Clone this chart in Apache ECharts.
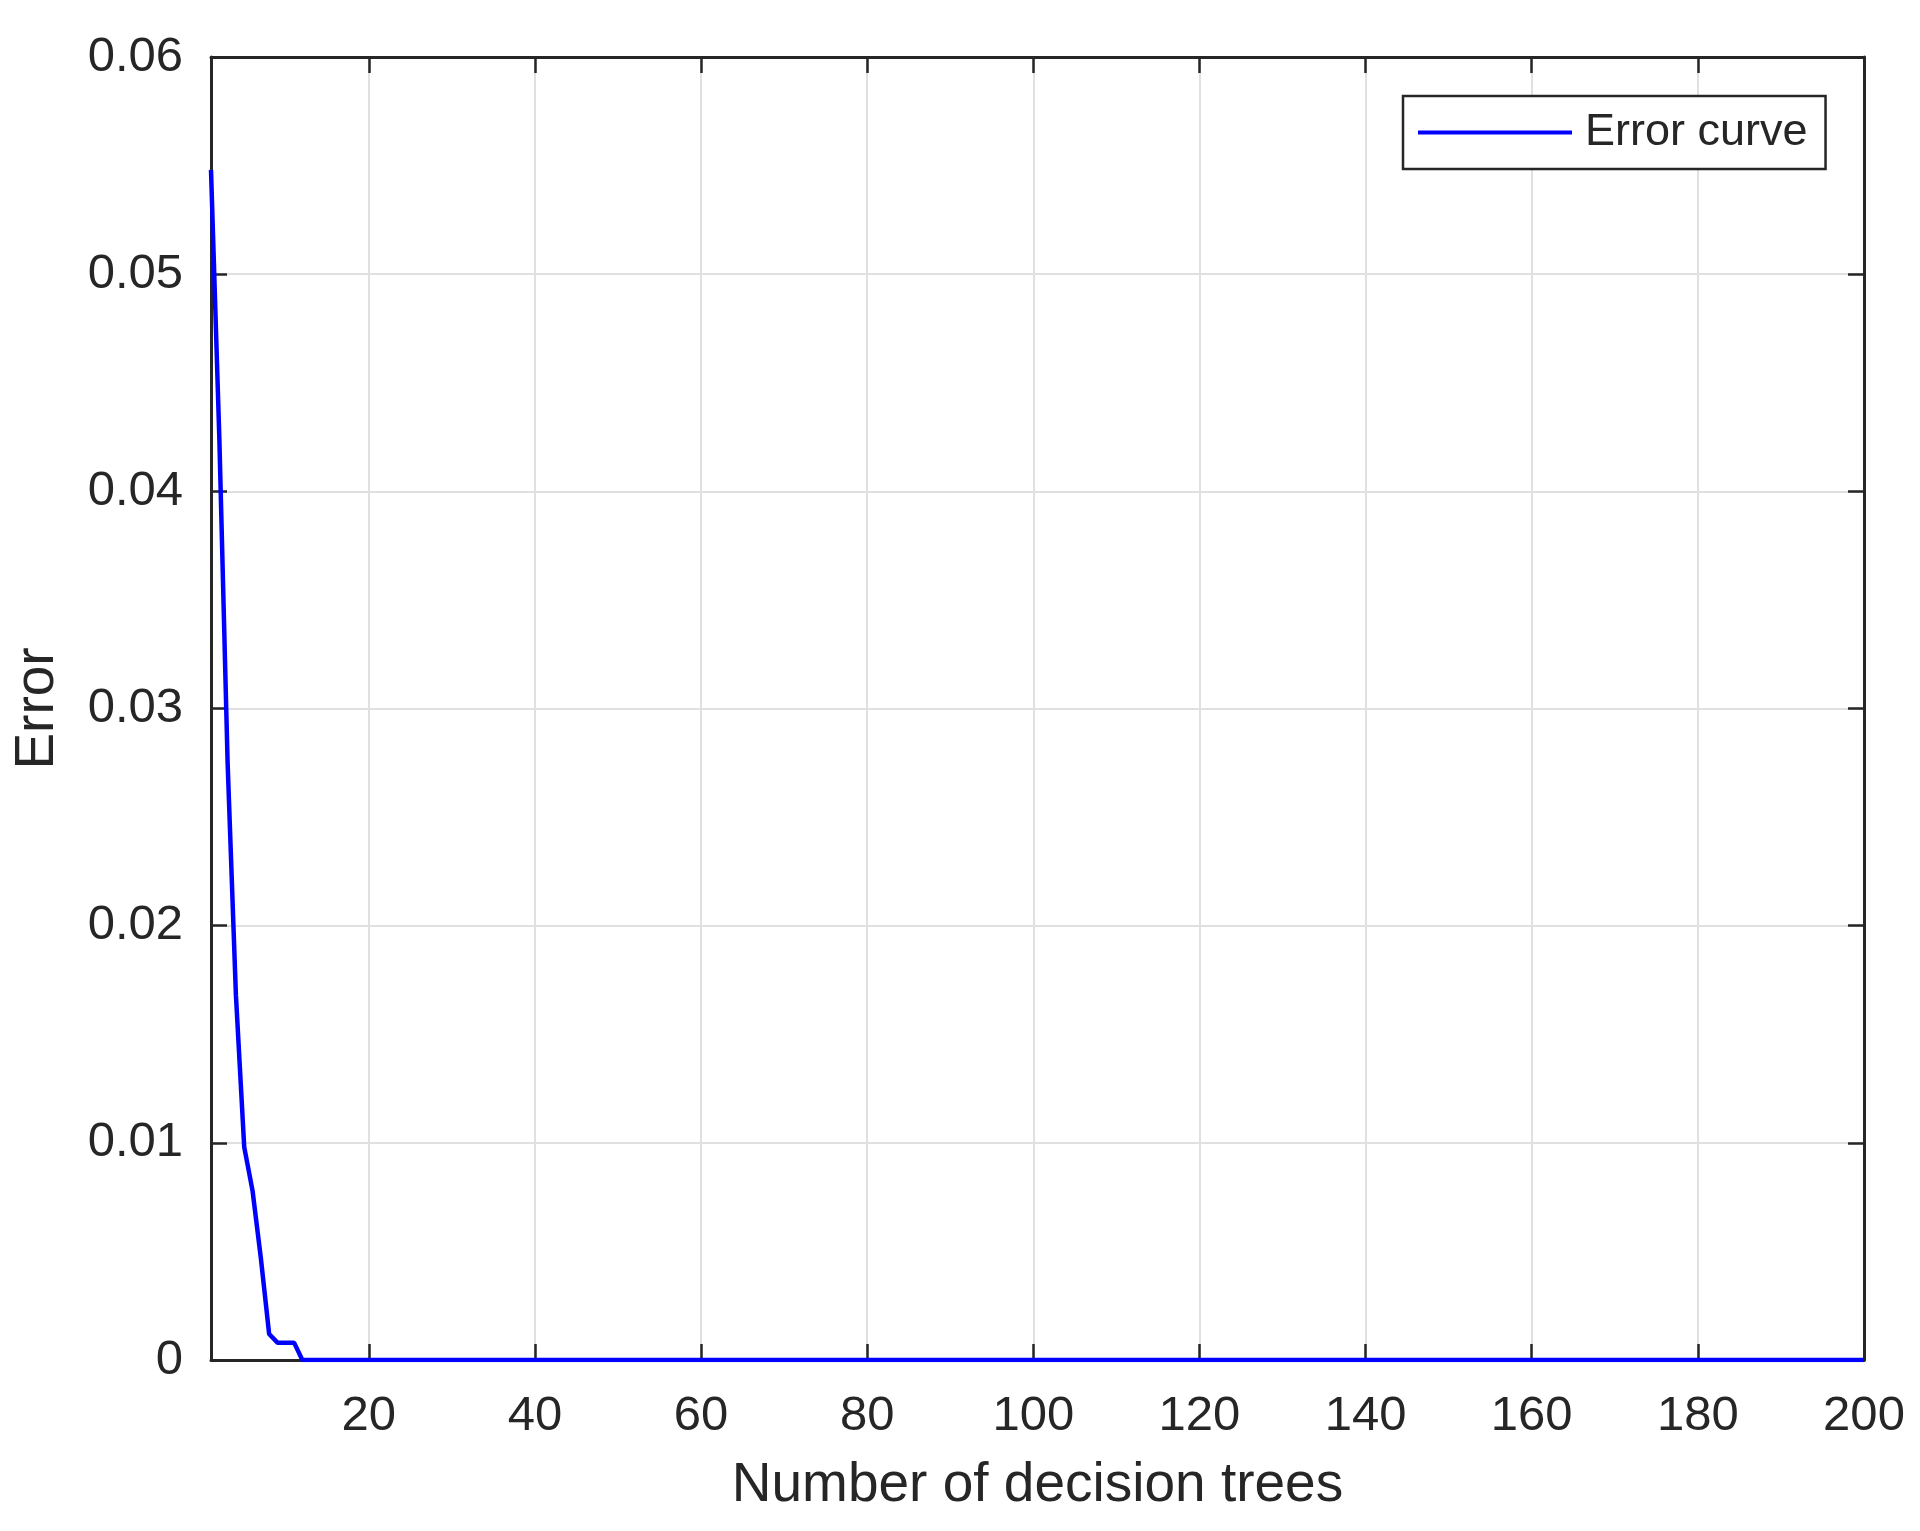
<!DOCTYPE html>
<html>

<head lang="en">
  <meta charset="UTF-8">
  <title>Error curve</title>
  <script src="https://cdn.jsdelivr.net/npm/echarts@6/dist/echarts.min.js"></script>
  <style>
  body {
    margin: 0;
    background: #fff;
  }
  #chart {
    width: 1920px;
    height: 1531px;
  }
  </style>
</head>

<body>
  <div id="chart"></div>
</body>
<script>
// number of trees (curve is flat at 0 after 12 trees)
var trees = [1, 2, 3, 4, 5, 6, 7, 8, 9, 10, 11, 12, 200];
var errorVals = [0.0548, 0.0425, 0.0275, 0.0168, 0.0098, 0.0078, 0.0047, 0.0012, 0.0008, 0.0008, 0.0008, 0, 0];
var xTicks = [20, 40, 60, 80, 100, 120, 140, 160, 180, 200];

var ink = '#262626';
var font = 'Liberation Sans, Arial, sans-serif';

var points = [];
for (var i = 0; i < trees.length; i++) {
  points.push([trees[i], errorVals[i]]);
}

var myChart = echarts.init(document.getElementById('chart'));

var boxLine = { show: true, onZero: false, lineStyle: { color: ink, width: 3 } };
var inTick = { show: true, inside: true, length: 16, lineStyle: { color: ink, width: 2.5 } };
var grayGrid = { show: true, lineStyle: { color: '#e0e0e0', width: 2 } };

option = {
  backgroundColor: '#fff',
  textStyle: { fontFamily: font, color: ink },
  animation: false,
  grid: {
    left: 211,
    right: 56,
    top: 57,
    bottom: 171,
    outerBoundsMode: 'none'
  },
  legend: {
    left: 1403,
    top: 96,
    padding: [14, 18, 14, 15],
    borderColor: ink,
    borderWidth: 2.5,
    borderRadius: 0,
    backgroundColor: '#fff',
    icon: 'rect',
    itemWidth: 154,
    itemHeight: 4,
    textStyle: { fontSize: 45, color: ink, fontFamily: font, padding: [0, 0, 0, 8] },
    data: ['Error curve']
  },
  xAxis: [{
    type: 'value',
    position: 'bottom',
    min: 1,
    max: 200,
    name: 'Number of decision trees',
    nameLocation: 'middle',
    nameGap: 98,
    nameTextStyle: { fontSize: 55, color: ink, fontFamily: font },
    axisLine: boxLine,
    axisTick: Object.assign({ customValues: xTicks }, inTick),
    axisLabel: { customValues: xTicks, fontSize: 49, color: ink, margin: 32, fontFamily: font },
    splitLine: grayGrid
  }, {
    type: 'value',
    position: 'top',
    min: 1,
    max: 200,
    axisLine: boxLine,
    axisTick: Object.assign({ customValues: xTicks }, inTick),
    axisLabel: { show: false, customValues: xTicks },
    splitLine: { show: false }
  }],
  yAxis: [{
    type: 'value',
    position: 'left',
    min: 0,
    max: 0.06,
    interval: 0.01,
    name: 'Error',
    nameLocation: 'middle',
    nameGap: 146,
    nameTextStyle: { fontSize: 55, color: ink, fontFamily: font },
    axisLine: boxLine,
    axisTick: inTick,
    axisLabel: {
      fontSize: 49,
      color: ink,
      margin: 28,
      fontFamily: font,
      formatter: function(v) {
        return v === 0 ? '0' : v.toFixed(2);
      }
    },
    splitLine: grayGrid
  }, {
    type: 'value',
    position: 'right',
    min: 0,
    max: 0.06,
    interval: 0.01,
    axisLine: boxLine,
    axisTick: inTick,
    axisLabel: { show: false },
    splitLine: { show: false }
  }],
  series: [{
    name: 'Error curve',
    type: 'line',
    xAxisIndex: 0,
    yAxisIndex: 0,
    data: points,
    showSymbol: false,
    symbol: 'none',
    color: '#0000ff',
    lineStyle: { color: '#0000ff', width: 4.5 },
    z: 5
  }]
};

myChart.setOption(option);
</script>

</html>
